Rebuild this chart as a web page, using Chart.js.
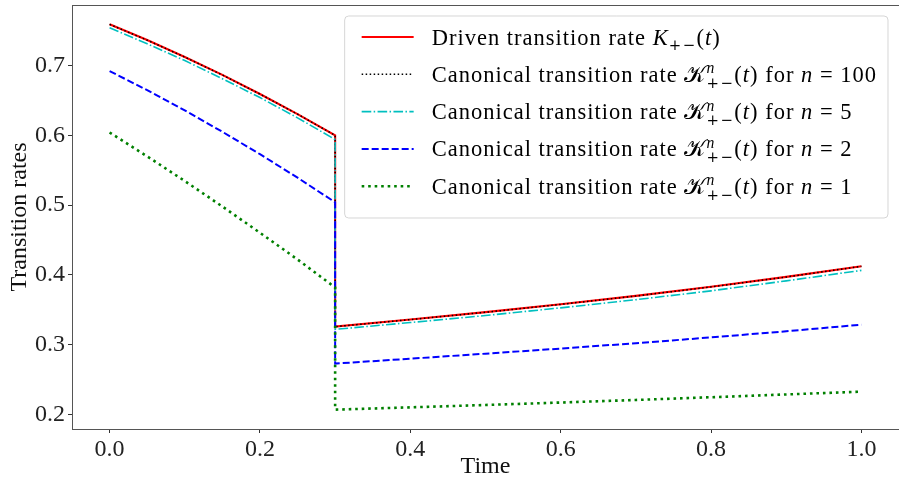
<!DOCTYPE html>
<html>
<head>
<meta charset="utf-8">
<script src="https://cdn.jsdelivr.net/npm/chart.js@4.4.1/dist/chart.umd.min.js"></script>
<style>
  html, body { margin: 0; padding: 0; background: #fff; }
  canvas { display: block; }
</style>
</head>
<body>
<canvas id="rateChart" width="899" height="481"></canvas>
<script>
// time grid, the protocol switches at t = 0.3
const timesBefore = [0, 0.05, 0.1, 0.15, 0.2, 0.25, 0.3];
const timesAfter = [0.3, 0.4, 0.5, 0.6, 0.7, 0.8, 0.9, 1.0];

// values
const drivenBefore = [0.759, 0.7364, 0.7122, 0.6865, 0.6592, 0.6304, 0.600];
const drivenAfter = [0.326, 0.3362, 0.3467, 0.358, 0.370, 0.383, 0.3972, 0.4125];
const n100Before = [0.7588, 0.7362, 0.712, 0.6863, 0.659, 0.6302, 0.5998];
const n100After = [0.3258, 0.336, 0.3465, 0.3578, 0.3698, 0.3828, 0.397, 0.4123];
const n5Before = [0.754, 0.731, 0.707, 0.681, 0.654, 0.625, 0.594];
const n5After = [0.322, 0.3318, 0.3418, 0.3528, 0.3645, 0.3772, 0.3915, 0.4065];
const n2Before = [0.692, 0.6646, 0.6356, 0.605, 0.5729, 0.5393, 0.504];
const n2After = [0.273, 0.280, 0.2872, 0.2945, 0.3022, 0.3105, 0.3193, 0.3287];
const n1Before = [0.604, 0.5698, 0.5345, 0.498, 0.4604, 0.4221, 0.382];
const n1After = [0.207, 0.2103, 0.2137, 0.2172, 0.2209, 0.2248, 0.2288, 0.2328];

const xTicks = [0, 0.2, 0.4, 0.6, 0.8, 1.0];
const yTicks = [0.2, 0.3, 0.4, 0.5, 0.6, 0.7];
const seriesNames = [
  "Driven transition rate K+-(t)",
  "Canonical transition rate K^n+-(t) for n = 100",
  "Canonical transition rate K^n+-(t) for n = 5",
  "Canonical transition rate K^n+-(t) for n = 2",
  "Canonical transition rate K^n+-(t) for n = 1",
];
const nValues = [null, "100", "5", "2", "1"];

const FONT = '"Liberation Serif", "Times New Roman", serif';
Chart.defaults.font.family = FONT;
Chart.defaults.color = "#222";

function toPoints(before, after) {
  const a = timesBefore.map((t, i) => ({ x: t, y: before[i] }));
  const b = timesAfter.map((t, i) => ({ x: t, y: after[i] }));
  return a.concat(b);
}

function line(label, before, after, color, width, dash, order) {
  return {
    label: label,
    data: toPoints(before, after),
    borderColor: color,
    backgroundColor: color,
    borderWidth: width,
    borderDash: dash,
    borderCapStyle: "butt",
    pointRadius: 0,
    tension: 0,
    fill: false,
    order: order,
  };
}

// mixed roman / italic / script text, returns end x (draw=false only measures)
function drawMath(ctx, x, y, parts, size, draw) {
  let supW = 0;
  parts.forEach(([text, kind]) => {
    let font = size + "px " + FONT, dy = 0, ls = "1px";
    if (kind === "i") font = "italic " + size + "px " + FONT;
    if (kind === "cal") font = size + 'px "DejaVu Serif", ' + FONT;
    if (kind === "sup") { font = "italic " + size * 0.7 + "px " + FONT; dy = -size * 0.38; }
    if (kind === "sub") { font = size * 0.66 + 'px "DejaVu Serif", serif'; dy = size * 0.26; ls = "1.5px"; }
    ctx.font = font;
    ctx.letterSpacing = ls;
    if (draw) ctx.fillText(text, x, y + dy);
    const w = ctx.measureText(text).width;
    if (kind === "sup") { supW = w; return; }
    x += Math.max(w, kind === "sub" ? supW : 0);
    supW = 0;
  });
  ctx.letterSpacing = "0px";
  return x;
}

function legendParts(i) {
  if (nValues[i] === null) {
    return [["Driven transition rate ", "r"], ["K", "i"], ["+\u2212", "sub"],
            ["(", "r"], ["t", "i"], [")", "r"]];
  }
  return [["Canonical transition rate ", "r"], ["\u{1D4A6}", "cal"], ["n", "sup"], ["+\u2212", "sub"],
          ["(", "r"], ["t", "i"], [")", "r"], [" for ", "r"], ["n", "i"],
          [" = ", "r"], [nValues[i], "r"]];
}

const framePlugin = {
  id: "frame",
  afterDatasetsDraw(chart) {
    const { ctx, chartArea: a } = chart;
    ctx.save();
    ctx.strokeStyle = "#555";
    ctx.lineWidth = 1;
    ctx.strokeRect(a.left + 0.5, a.top + 0.5, a.right - a.left, a.bottom - a.top);
    ctx.restore();
  },
};

const legendPlugin = {
  id: "mathLegend",
  afterDraw(chart) {
    const { ctx, chartArea: a } = chart;
    const size = 22.5;
    ctx.save();
    ctx.textBaseline = "alphabetic";
    let maxW = 0;
    chart.data.datasets.forEach((ds, i) => {
      maxW = Math.max(maxW, drawMath(ctx, 0, 0, legendParts(i), size, false));
    });
    const padL = 17, lineLen = 52, gap = 18, padR = 11, rowH = 37.3;
    const boxW = padL + lineLen + gap + maxW + padR;
    const boxH = 202;
    const right = a.right - 11, top = a.top + 11;
    const left = right - boxW;
    ctx.beginPath();
    ctx.roundRect(left, top, boxW, boxH, 4);
    ctx.fillStyle = "rgba(255,255,255,0.8)";
    ctx.fill();
    ctx.strokeStyle = "rgba(204,204,204,0.8)";
    ctx.lineWidth = 1;
    ctx.stroke();

    chart.data.datasets.forEach((ds, i) => {
      const cy = top + 21 + i * rowH;
      ctx.beginPath();
      ctx.setLineDash(ds.borderDash || []);
      ctx.lineCap = "butt";
      ctx.strokeStyle = ds.borderColor;
      ctx.lineWidth = ds.borderWidth;
      ctx.moveTo(left + padL, cy);
      ctx.lineTo(left + padL + lineLen, cy);
      ctx.stroke();
      ctx.setLineDash([]);
      ctx.fillStyle = "#000";
      drawMath(ctx, left + padL + lineLen + gap, cy + 7.5, legendParts(i), size, true);
    });
    ctx.restore();
  },
};

const ctx = document.getElementById("rateChart").getContext("2d");
const rateChart = new Chart(ctx, {
  type: "line",
  data: {
    datasets: [
      line(seriesNames[0], drivenBefore, drivenAfter, "#ff0000", 2.1, [], 5),
      line(seriesNames[1], n100Before, n100After, "#000000", 1.5, [1.5, 2.5], 4),
      line(seriesNames[2], n5Before, n5After, "#00bfbf", 1.6, [9.6, 2.4, 1.5, 2.4], 3),
      line(seriesNames[3], n2Before, n2After, "#0000ff", 2, [7, 3], 2),
      line(seriesNames[4], n1Before, n1After, "#008000", 2.6, [2.6, 3.9], 1),
    ],
  },
  options: {
    responsive: false,
    animation: false,
    layout: { padding: { top: 5, right: 0, left: 0, bottom: 0 } },
    plugins: {
      legend: { display: false },
      tooltip: { enabled: false },
    },
    scales: {
      x: {
        type: "linear",
        min: -0.05,
        max: 1.05,
        afterBuildTicks: (s) => { s.ticks = xTicks.map((v) => ({ value: v })); },
        afterFit: (s) => { s.height = 52; s.paddingLeft = 0; s.paddingRight = 0; },
        border: { display: false },
        grid: { drawOnChartArea: false, drawTicks: true, tickLength: 4, color: "#333" },
        ticks: {
          padding: 2,
          font: { size: 24 },
          color: "#222",
          maxRotation: 0,
          callback: (v) => v.toFixed(1),
        },
        title: {
          display: true,
          text: "Time",
          font: { size: 24 },
          color: "#111",
          padding: { top: 0, bottom: 0 },
        },
      },
      y: {
        type: "linear",
        min: 0.1793,
        max: 0.7866,
        afterBuildTicks: (s) => { s.ticks = yTicks.map((v) => ({ value: v })); },
        afterFit: (s) => { s.width = 72; s.paddingTop = 0; s.paddingBottom = 0; },
        border: { display: false },
        grid: { drawOnChartArea: false, drawTicks: true, tickLength: 4, color: "#333" },
        ticks: {
          padding: 3,
          font: { size: 24 },
          color: "#222",
          callback: (v) => v.toFixed(1),
        },
        title: {
          display: true,
          text: "Transition rates",
          font: { size: 24 },
          color: "#111",
          padding: { top: 5, bottom: 0 },
        },
      },
    },
  },
  plugins: [framePlugin, legendPlugin],
});
</script>
</body>
</html>
